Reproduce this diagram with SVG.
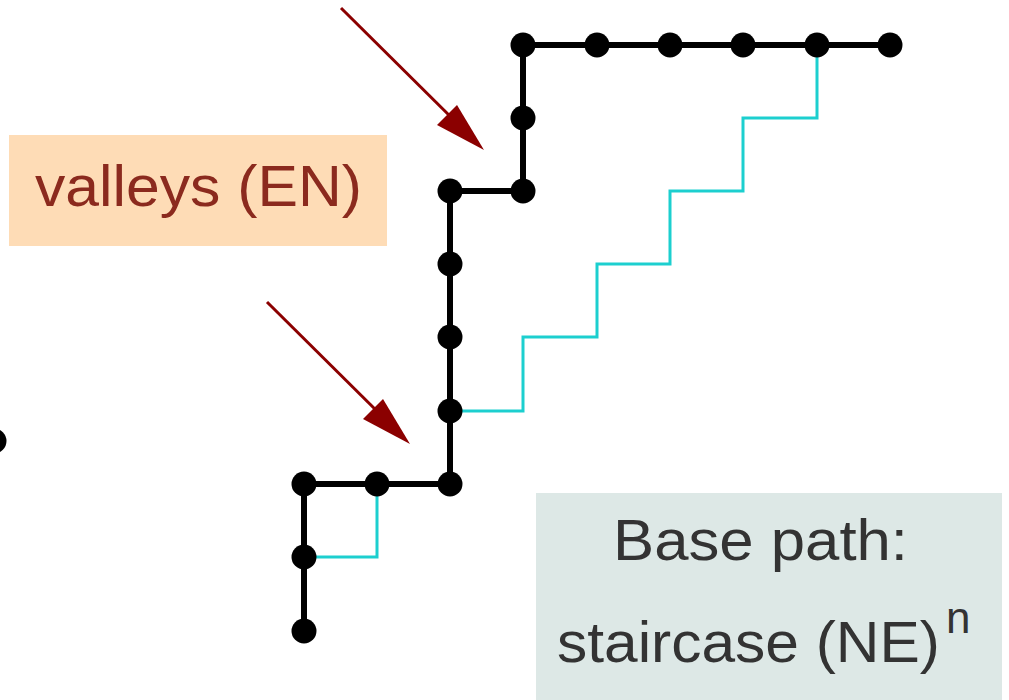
<svg xmlns="http://www.w3.org/2000/svg" width="1009" height="700" viewBox="0 0 1009 700">
<style>
.blk{fill:none;stroke:#000;stroke-width:6;stroke-linejoin:miter}
.cy{fill:none;stroke:#1ccfcf;stroke-width:3}
.dot{fill:#000}
.arr{stroke:#8b0000;stroke-width:3;fill:none}
.ah{fill:#8b0000}
.lbl{font-family:"Liberation Sans","DejaVu Sans",sans-serif}
</style>
<rect width="1009" height="700" fill="#fff"/>
<g id="connectors">
<polyline class="cy" points="304,557 377,557 377,484"/>
<polyline class="cy" points="450,411 523,411 523,337 597,337 597,264 670,264 670,191 743,191 743,118 817,118 817,45"/>
<polyline class="blk" points="304,631 304,484 450,484 450,191 523,191 523,45 890,45"/>
<line class="arr" x1="341" y1="8" x2="462" y2="128"/>
<polygon class="ah" points="484,150 437,125 457,105"/>
<line class="arr" x1="267" y1="302" x2="388" y2="422"/>
<polygon class="ah" points="410,444 363,419 383,399"/>
</g>
<g id="dots">
<circle class="dot" cx="-6" cy="441" r="12.5"/>
<circle class="dot" cx="304" cy="631" r="12.5"/>
<circle class="dot" cx="304" cy="557" r="12.5"/>
<circle class="dot" cx="304" cy="484" r="12.5"/>
<circle class="dot" cx="377" cy="484" r="12.5"/>
<circle class="dot" cx="450" cy="484" r="12.5"/>
<circle class="dot" cx="450" cy="411" r="12.5"/>
<circle class="dot" cx="450" cy="337" r="12.5"/>
<circle class="dot" cx="450" cy="264" r="12.5"/>
<circle class="dot" cx="450" cy="191" r="12.5"/>
<circle class="dot" cx="523" cy="191" r="12.5"/>
<circle class="dot" cx="523" cy="118" r="12.5"/>
<circle class="dot" cx="523" cy="45" r="12.5"/>
<circle class="dot" cx="597" cy="45" r="12.5"/>
<circle class="dot" cx="670" cy="45" r="12.5"/>
<circle class="dot" cx="743" cy="45" r="12.5"/>
<circle class="dot" cx="817" cy="45" r="12.5"/>
<circle class="dot" cx="890" cy="45" r="12.5"/>
</g>
<g id="valleys">
<rect x="9" y="135" width="378" height="111" fill="#fedcb6"/>
<text class="lbl" x="35" y="206" font-size="58" fill="#8b2a1e" textLength="327" lengthAdjust="spacingAndGlyphs">valleys (EN)</text>
</g>
<g id="base">
<rect x="536" y="493" width="466" height="207" fill="#dde8e6"/>
<text class="lbl" x="613" y="560" font-size="58" fill="#333" textLength="295" lengthAdjust="spacingAndGlyphs">Base path:</text>
<text class="lbl" x="557" y="662" font-size="58" fill="#333" textLength="383" lengthAdjust="spacingAndGlyphs">staircase (NE)</text>
<text class="lbl" x="946" y="633" font-size="44" fill="#333">n</text>
</g>
</svg>
